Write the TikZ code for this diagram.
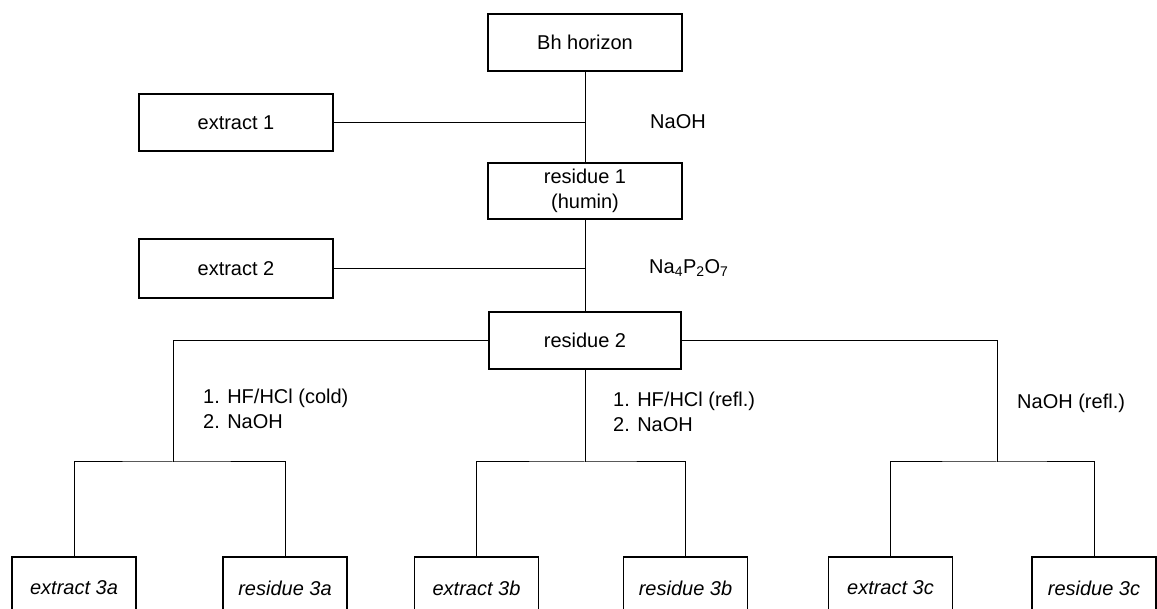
\documentclass[tikz,border=0pt]{standalone}
\usepackage{fontspec}
\setmainfont{Liberation Sans}
\begin{document}
\begin{tikzpicture}[x=1pt,y=-1pt,
    every node/.style={font=\fontsize{20}{25}\selectfont},
    fraction/.style={draw,line width=1.6pt,minimum width=194pt,minimum height=57pt,inner sep=0pt,align=center},
    product/.style={draw,line width=1.6pt,minimum width=124pt,minimum height=62pt,inner sep=0pt,
      font=\fontsize{20}{25}\selectfont\itshape},
    reagent/.style={anchor=west,align=left,inner sep=0pt}]
      \useasboundingbox (0,0) rectangle (1157,609);
      \clip (0,0) rectangle (1157,609);
      \draw
        (585,42.5) node[fraction] (bh){Bh horizon}
        (236,122.5) node[fraction] (ext1){extract 1}
        (585,191) node[fraction,minimum height=56pt] (res1){residue 1\\(humin)}
        (236,268.5) node[fraction,minimum height=59pt] (ext2){extract 2}
        (585,340.5) node[fraction,minimum width=192pt] (res2){residue 2}
        (74,588) node[product] (e3a){extract 3a}
        (285,588) node[product] (r3a){residue 3a}
        (476.5,588) node[product] (e3b){extract 3b}
        (685.5,588) node[product] (r3b){residue 3b}
        (890.5,588) node[product] (e3c){extract 3c}
        (1094,588) node[product] (r3c){residue 3c};
      \node[reagent] (naoh) at (650,122) {NaOH};
      \node[reagent] (pyro) at (649,268) {Na\textsubscript{4}P\textsubscript{2}O\textsubscript{7}};
      \node[reagent] (cold) at (203,409) {1. HF/HCl (cold)\\2. NaOH};
      \node[reagent] (refl) at (613,412) {1. HF/HCl (refl.)\\2. NaOH};
      \node[reagent] (hot) at (1017,403) {NaOH (refl.)};
      \coordinate (ja) at (173,462);
      \coordinate (jb) at (585,462);
      \coordinate (jc) at (997,462);
      \begin{scope}[line width=1pt]
        \draw (bh) to (res1);
        \draw (res1) to (res2);
        \draw (ext1.east) to (ext1 -| bh);
        \draw (ext2.east) to (ext2 -| bh);
        \draw (res2.west) -| (ja);
        \draw (res2.south) to (jb);
        \draw (res2.east) -| (jc);
        \draw (e3a.north) |- (ja) -| (r3a.north);
        \draw (e3b.north) |- (jb) -| (r3b.north);
        \draw (e3c.north) |- (jc) -| (r3c.north);
      \end{scope}
    \end{tikzpicture}
\end{document}
